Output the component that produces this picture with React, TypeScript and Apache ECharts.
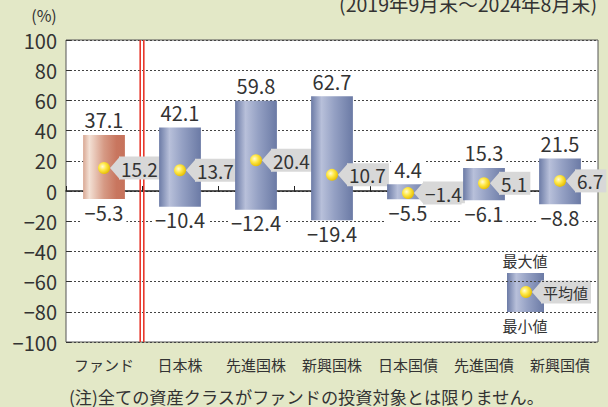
import React, { useEffect, useRef } from 'react';
import * as echarts from 'echarts';

const categories = ['ファンド', '日本株', '先進国株', '新興国株', '日本国債', '先進国債', '新興国債'];
const maxValues = [37.1, 42.1, 59.8, 62.7, 4.4, 15.3, 21.5];
const minValues = [-5.3, -10.4, -12.4, -19.4, -5.5, -6.1, -8.8];
const meanValues = [15.2, 13.7, 20.4, 10.7, -1.4, 5.1, 6.7];
const yMin = -100;
const yMax = 100;
const yInterval = 20;
const periodText = '(2019年9月末～2024年8月末)';
const unitText = '(%)';
const noteText = '(注)全ての資産クラスがファンドの投資対象とは限りません。';
const legendLabels = ['最大値', '平均値', '最小値'];

const FONT = '"Noto Sans CJK JP", "Noto Sans", sans-serif';
const TEXT = '#333333';

const fmt = (v: number) => (v < 0 ? '\u2212' + Math.abs(v).toFixed(1) : v.toFixed(1));

const blueGrad = () =>
  new echarts.graphic.LinearGradient(0, 0, 1, 0, [
    { offset: 0, color: '#6c7ba6' },
    { offset: 0.25, color: '#b8c0da' },
    { offset: 0.55, color: '#95a1c4' },
    { offset: 1, color: '#6b7aa5' },
  ]);
const fundGrad = () =>
  new echarts.graphic.LinearGradient(0, 0, 1, 0, [
    { offset: 0, color: '#d9a894' },
    { offset: 0.15, color: '#f3e0d4' },
    { offset: 0.5, color: '#d69a85' },
    { offset: 0.8, color: '#c8765f' },
    { offset: 1, color: '#c7735c' },
  ]);
const ballGrad = () =>
  new echarts.graphic.RadialGradient(0.38, 0.38, 0.65, [
    { offset: 0, color: '#fffbd8' },
    { offset: 0.45, color: '#ffe94a' },
    { offset: 1, color: '#e6bd00' },
  ]);

function callout(cx: number, cy: number, text: string, fontSize: number) {
  return [
    {
      type: 'polygon',
      shape: { points: [[cx + 6, cy], [cx + 16, cy - 11.5], [cx + 16, cy + 11.5]] },
      style: { fill: '#d8d8d8' },
    },
    {
      type: 'text',
      x: cx + 15,
      y: cy,
      style: {
        text,
        fill: TEXT,
        fontSize,
        fontFamily: FONT,
        align: 'left',
        verticalAlign: 'middle',
        lineHeight: 23,
        backgroundColor: '#d8d8d8',
        padding: [0, 3, 0, 2],
      },
    },
    {
      type: 'circle',
      shape: { cx, cy, r: 6 },
      style: { fill: ballGrad() },
    },
  ];
}

export default function App() {
  const ref = useRef<HTMLDivElement>(null);
  useEffect(() => {
    document.body.style.margin = '0';
    const chart = echarts.init(ref.current!, null, { renderer: 'svg' });
    const data = categories.map((_, i) => [i, maxValues[i], minValues[i], meanValues[i]]);

    const option: any = {
      animation: false,
      backgroundColor: '#e3e8c7',
      textStyle: { fontFamily: FONT },
      grid: {
        left: 66,
        right: 10,
        top: 40,
        bottom: 65,
        show: true,
        backgroundColor: '#ffffff',
        borderColor: '#555555',
        borderWidth: 1,
      },
      xAxis: [
        {
          type: 'category',
          data: categories,
          position: 'bottom',
          axisLine: { show: false, onZero: false },
          axisTick: { show: false },
          axisLabel: { color: TEXT, fontSize: 15, margin: 15, fontFamily: FONT, interval: 0 },
        },
        {
          type: 'category',
          data: categories,
          position: 'bottom',
          axisLine: { show: true, onZero: true, lineStyle: { color: '#222222', width: 1.5 } },
          axisTick: { show: true, inside: true, length: 5, lineStyle: { color: '#222222' } },
          axisLabel: { show: false },
        },
      ],
      yAxis: {
        type: 'value',
        min: yMin,
        max: yMax,
        interval: yInterval,
        axisLine: { show: false },
        axisTick: { show: true, inside: true, length: 5, lineStyle: { color: '#333333' } },
        axisLabel: {
          color: TEXT,
          fontSize: 20,
          margin: 9,
          fontFamily: FONT,
          formatter: (v: number) => (v < 0 ? '\u2212' + Math.abs(v) : String(v)),
        },
        splitLine: { show: true, lineStyle: { color: '#444444', type: [2, 2], width: 1 } },
      },
      series: [
        {
          type: 'custom',
          z: 1,
          xAxisIndex: 0,
          data: [[0, 0]],
          renderItem: (params: any, api: any) => {
            const [cx] = api.coord([api.value(0), 0]);
            const band = api.size([1, 0])[0];
            const x = cx + band / 2;
            const top = api.coord([0, yMax])[1];
            const bottom = api.coord([0, yMin])[1];
            return {
              type: 'group',
              children: [
                { type: 'line', shape: { x1: x - 1.8, y1: top, x2: x - 1.8, y2: bottom }, style: { stroke: '#e8382c', lineWidth: 1.6 } },
                { type: 'line', shape: { x1: x + 1.8, y1: top, x2: x + 1.8, y2: bottom }, style: { stroke: '#e8382c', lineWidth: 1.6 } },
              ],
            };
          },
        },
        {
          type: 'custom',
          z: 3,
          xAxisIndex: 0,
          data,
          encode: { x: 0, y: [1, 2] },
          renderItem: (params: any, api: any) => {
            const i = api.value(0);
            const mx = api.value(1);
            const mn = api.value(2);
            const mean = api.value(3);
            const [cx, yTop] = api.coord([i, mx]);
            const yBot = api.coord([i, mn])[1];
            const yMean = api.coord([i, mean])[1];
            const bw = api.size([1, 0])[0] * 0.55;
            return {
              type: 'group',
              children: [
                {
                  type: 'rect',
                  shape: { x: cx - bw / 2, y: yTop, width: bw, height: yBot - yTop },
                  style: { fill: i === 0 ? fundGrad() : blueGrad() },
                },
                {
                  type: 'text',
                  x: cx,
                  y: yTop - 5,
                  style: {
                    text: fmt(mx), fill: TEXT, fontSize: 20, fontFamily: FONT,
                    align: 'center', verticalAlign: 'bottom', backgroundColor: '#ffffff', padding: [0, 3],
                  },
                },
                {
                  type: 'text',
                  x: cx,
                  y: yBot + 3,
                  style: {
                    text: fmt(mn), fill: TEXT, fontSize: 20, fontFamily: FONT,
                    align: 'center', verticalAlign: 'top', backgroundColor: '#ffffff', padding: [0, 3],
                  },
                },
                ...callout(cx, yMean, fmt(mean), 19),
              ],
            };
          },
        },
      ],
      graphic: [
        {
          type: 'text', x: 597, y: 13.5,
          style: { text: periodText, fill: TEXT, fontSize: 19.5, fontFamily: FONT, align: 'right', verticalAlign: 'bottom' },
        },
        {
          type: 'text', x: 44, y: 15,
          style: { text: unitText, fill: TEXT, fontSize: 16, fontFamily: FONT, align: 'center', verticalAlign: 'middle' },
        },
        {
          type: 'text', x: 69, y: 396,
          style: { text: noteText, fill: TEXT, fontSize: 17.2, fontFamily: FONT, align: 'left', verticalAlign: 'middle' },
        },
        {
          type: 'group', z: 10,
          children: [
            { type: 'rect', shape: { x: 507, y: 273, width: 37, height: 39 }, style: { fill: blueGrad() } },
            {
              type: 'text', x: 525, y: 260,
              style: { text: legendLabels[0], fill: TEXT, fontSize: 15, fontFamily: FONT, align: 'center', verticalAlign: 'middle', backgroundColor: '#ffffff', padding: [0, 2] },
            },
            {
              type: 'text', x: 525, y: 325,
              style: { text: legendLabels[2], fill: TEXT, fontSize: 15, fontFamily: FONT, align: 'center', verticalAlign: 'middle', backgroundColor: '#ffffff', padding: [0, 2] },
            },
            ...callout(526, 292, legendLabels[1], 15),
          ],
        },
      ],
    };
    chart.setOption(option);
    return () => chart.dispose();
  }, []);
  return <div ref={ref} style={{ width: 608, height: 407 }} />;
}
